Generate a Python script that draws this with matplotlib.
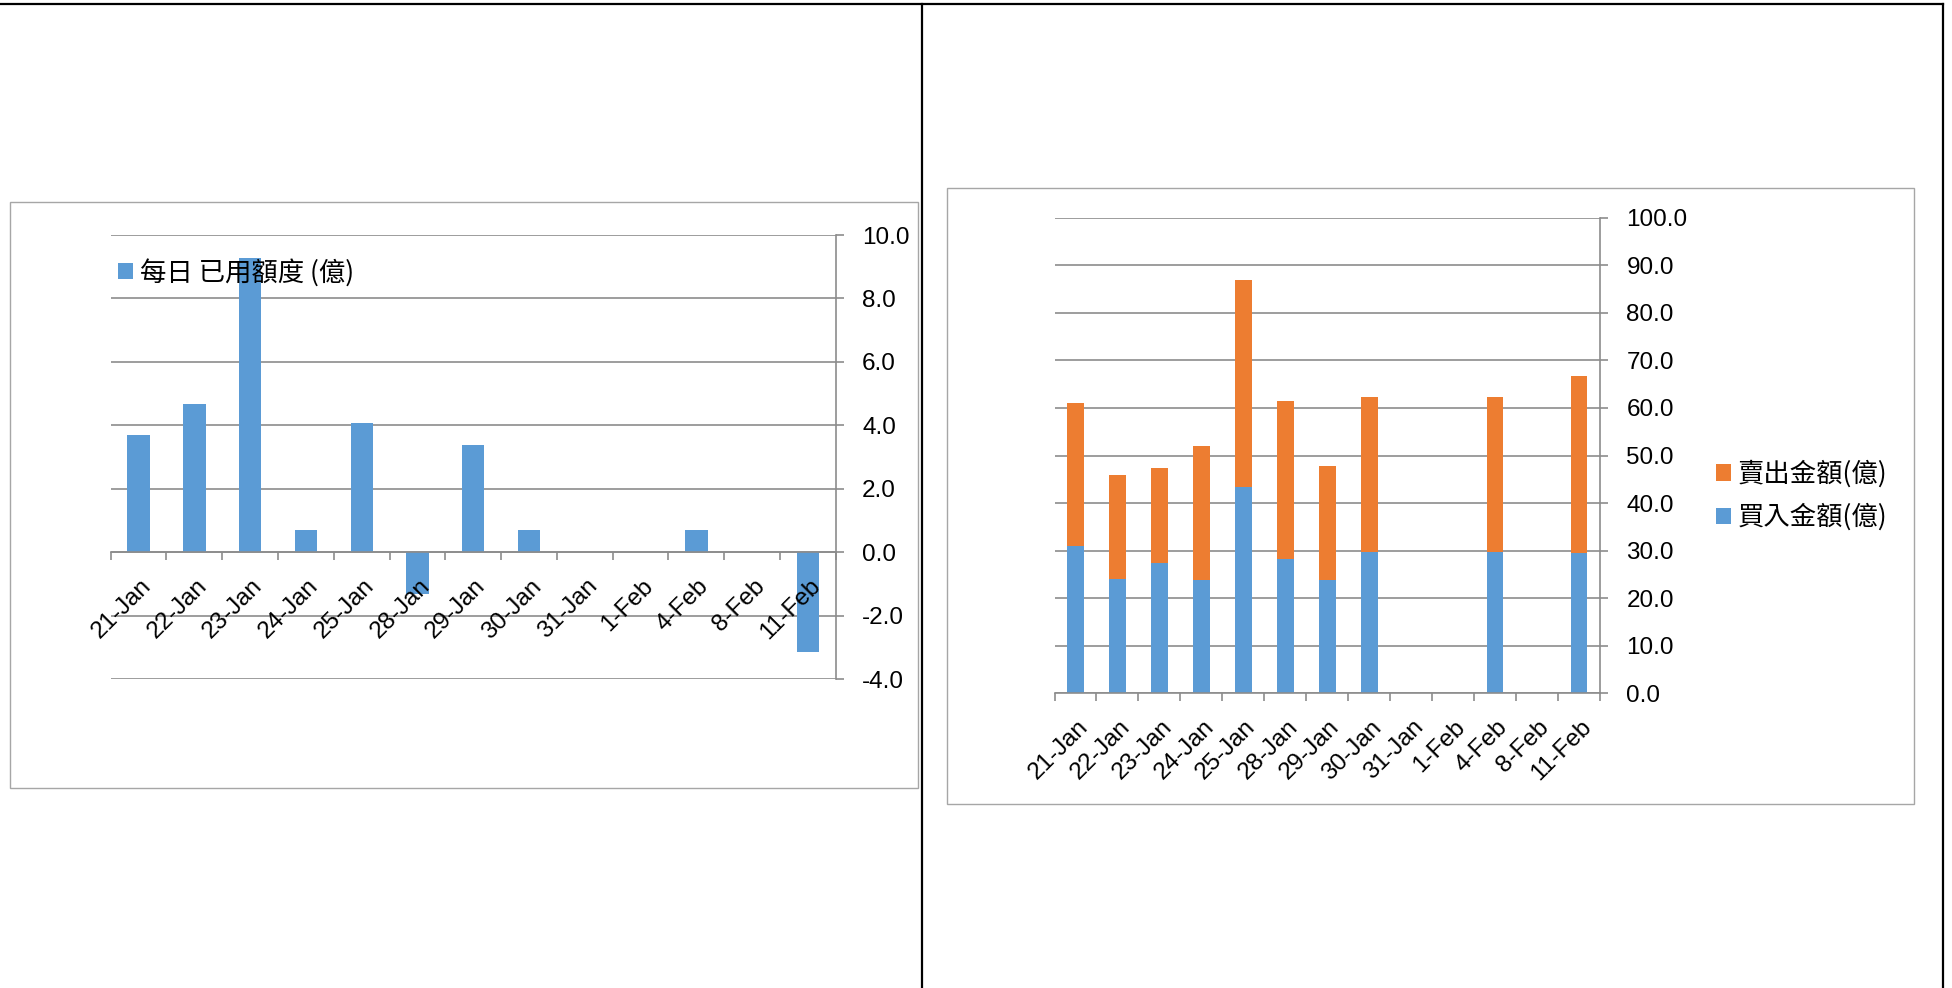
import numpy as np
import matplotlib
matplotlib.use('Agg')
import matplotlib.pyplot as plt
from matplotlib.transforms import ScaledTranslation
from matplotlib.patches import Rectangle
from matplotlib.lines import Line2D
from matplotlib.ticker import FormatStrFormatter

plt.rcParams['font.family'] = ['Liberation Sans', 'Noto Sans CJK TC', 'DejaVu Sans']
plt.rcParams['axes.unicode_minus'] = False

# data
dates = ['21-Jan', '22-Jan', '23-Jan', '24-Jan', '25-Jan', '28-Jan', '29-Jan',
         '30-Jan', '31-Jan', '1-Feb', '4-Feb', '8-Feb', '11-Feb']
daily_used = [3.69, 4.69, 9.28, 0.70, 4.09, -1.30, 3.38, 0.70, 0, 0, 0.70, 0, -3.14]
buy_amount = [30.9, 24.0, 27.4, 23.9, 43.3, 28.3, 23.8, 29.8, 0, 0, 29.8, 0, 29.4]
sell_amount = [30.1, 21.8, 20.0, 28.0, 43.7, 33.1, 24.0, 32.4, 0, 0, 32.4, 0, 37.4]

daily_label = '每日 已用額度 (億)'
buy_label = '買入金額(億)'
sell_label = '賣出金額(億)'

BLUE = '#5b9bd5'
ORANGE = '#ed7d31'
GRID = '#8c8c8c'
BOX = '#a6a6a6'
W, H = 1952, 988

fig = plt.figure(figsize=(W / 100, H / 100), dpi=100)


def fx(px):
    return px / W


def fy(py):
    return 1 - py / H


# page frame lines and chart boxes
for xs, ys in [([0, 1943], [4, 4]), ([922, 922], [4, 988]), ([1943, 1943], [4, 988])]:
    fig.add_artist(Line2D([fx(v) for v in xs], [fy(v) for v in ys],
                          transform=fig.transFigure, color='black', lw=1.6))
for (x0, y0, x1, y1) in [(10, 202, 918, 788), (947, 188, 1914, 804)]:
    fig.add_artist(Rectangle((fx(x0), fy(y1)), fx(x1 - x0), (y1 - y0) / H,
                             transform=fig.transFigure, fill=False, ec=BOX, lw=1.0))


def style_axes(ax, ymin, ymax, step):
    x = np.arange(len(dates))
    ax.set_xlim(-0.5, len(dates) - 0.5)
    ax.set_ylim(ymin, ymax)
    yticks = np.arange(ymin, ymax + step / 2, step)
    ax.set_yticks(yticks)
    ax.yaxis.set_major_formatter(FormatStrFormatter('%.1f'))
    ax.yaxis.tick_right()
    ax.tick_params(axis='y', which='major', direction='out', length=6, width=1.2,
                   color=GRID, pad=13, labelsize=17.5)
    # gridlines behind the bars, tick labels above them
    for v in yticks:
        ax.axhline(v, color=GRID, lw=1.2, zorder=0.5)
    for s in ['left', 'top']:
        ax.spines[s].set_visible(False)
    for s in ['right', 'bottom']:
        ax.spines[s].set_color(GRID)
        ax.spines[s].set_linewidth(1.2)
    ax.set_xticks(x)
    ax.set_xticklabels(dates, rotation=45, ha='right', va='center', rotation_mode='anchor')
    ax.set_xticks(np.arange(-0.5, len(dates), 1), minor=True)
    ax.tick_params(axis='x', which='major', length=0, pad=22, labelsize=17.5)
    ax.tick_params(axis='x', which='minor', length=6, width=1.2, color=GRID, direction='out')
    offset = ScaledTranslation(0.09, 0, fig.dpi_scale_trans)
    for lab in ax.get_xticklabels():
        lab.set_transform(lab.get_transform() + offset)
    return x


cjk = {'family': ['Noto Sans CJK TC', 'DejaVu Sans'], 'size': 19}

# left chart: daily used quota
ax1 = fig.add_axes([fx(110.7), fy(679.3), fx(835.8 - 110.7), (679.3 - 235) / H])
ax1.spines['bottom'].set_position(('data', 0))
x = style_axes(ax1, -4, 10, 2)
bars1 = ax1.bar(x, daily_used, width=0.4, color=BLUE, label=daily_label)
ax1.legend(handles=[bars1], loc='center left', bbox_to_anchor=(0.01, 0.9156),
           frameon=False, borderpad=0, borderaxespad=0, handlelength=0.57,
           handleheight=0.57, handletextpad=0.25, prop=cjk)

# right chart: buy / sell amounts, stacked
ax2 = fig.add_axes([fx(1054.5), fy(693.3), fx(1600 - 1054.5), (693.3 - 217.7) / H])
x = style_axes(ax2, 0, 100, 10)
b_buy = ax2.bar(x, buy_amount, width=0.4, color=BLUE, label=buy_label)
b_sell = ax2.bar(x, sell_amount, width=0.4, bottom=buy_amount, color=ORANGE, label=sell_label)
ax2.legend(handles=[b_sell, b_buy], loc='center left',
           bbox_to_anchor=(fx(1716), fy(495.7)), bbox_transform=fig.transFigure,
           frameon=False, borderpad=0, borderaxespad=0, handlelength=0.57,
           handleheight=0.57, handletextpad=0.25, labelspacing=0.6, prop=cjk)

fig.savefig('out.png', dpi=100)
